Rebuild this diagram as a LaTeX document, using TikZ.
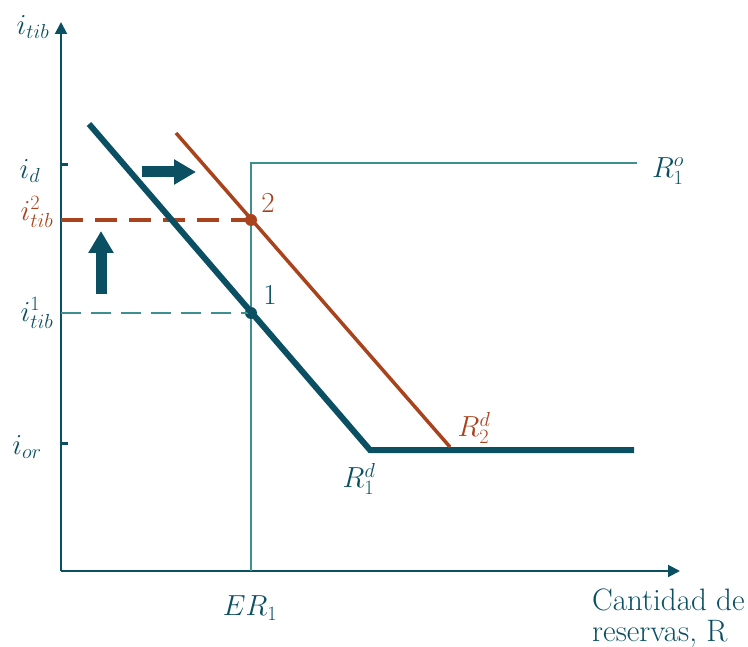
\RequirePackage{fix-cm}
\documentclass[tikz,border=0pt]{standalone}
\usetikzlibrary{arrows.meta}
\definecolor{dteal}{HTML}{0B4F63}
\definecolor{lteal}{HTML}{3E9090}
\definecolor{rust}{HTML}{A8431E}
\begin{document}
\begin{tikzpicture}[x=1pt,y=-1pt,
  lbl/.style={font=\fontsize{29}{31}\selectfont, text=dteal, inner sep=0pt},
  rlbl/.style={lbl, text=rust},
  axis/.style={draw=dteal, line width=2pt, -{Triangle[length=12pt,width=12pt]}},
  tick/.style={draw=dteal, line width=3pt},
  supply/.style={draw=lteal, line width=2pt},
  demand1/.style={draw=dteal, line width=6pt},
  demand2/.style={draw=rust, line width=3.5pt},
  blockarrow/.style={draw=dteal, line width=11pt, -{Triangle[length=22pt,width=24pt]}},
  dot/.style={circle, inner sep=0pt, minimum size=12pt}
]
\useasboundingbox (0,0) rectangle (748,647);

% axes
\coordinate (O) at (61,571);
\coordinate (ytop) at (61,22);
\coordinate (xend) at (680,571);
\draw[axis] (O) -- (ytop);
\draw[axis] (O) -- (xend);

% ticks
\coordinate (tid0) at (61,165); \coordinate (tid1) at (68,165);
\coordinate (tor0) at (61,443); \coordinate (tor1) at (68,443);
\draw[tick] (tid0) -- (tid1);
\draw[tick] (tor0) -- (tor1);

% supply curve R1^o
\coordinate (s0) at (251,571);
\coordinate (s1) at (251,163);
\coordinate (s2) at (637,163);
\draw[supply] (s0) -- (s1) -- (s2);

% points
\node[dot, fill=dteal] (p1) at (251,313) {};
\node[dot, fill=rust] (p2) at (251,220) {};

% dashed lines
\coordinate (d1) at (61,313);
\coordinate (d2) at (61,220);
\draw[draw=lteal, line width=2pt, dash pattern=on 20pt off 10pt] (d1) -- (p1.center);
\draw[draw=rust, line width=4.5pt, dash pattern=on 22pt off 12pt] (d2) -- (p2.center);

% demand curves
\coordinate (a0) at (89,124);
\coordinate (a1) at (370,450);
\coordinate (a2) at (634,450);
\draw[demand1, line join=miter] (a0) -- (a1) -- (a2);
\coordinate (b0) at (176,133);
\coordinate (b1) at (450,447);
\draw[demand2] (b0) -- (b1);

% block arrows
\coordinate (ra0) at (142,172);
\coordinate (ra1) at (196,172);
\draw[blockarrow] (ra0) -- (ra1);
\coordinate (ua0) at (101,294);
\coordinate (ua1) at (101,231);
\draw[blockarrow] (ua0) -- (ua1);

% labels
\node[lbl] (litib) at (33,27) {$i_{tib}$};
\node[lbl] (lid) at (30,171) {$i_d$};
\node[rlbl] (li2) at (37,212) {$i^2_{tib}$};
\node[lbl] (li1) at (37,313) {$i^1_{tib}$};
\node[lbl] (lior) at (27,447) {$i_{or}$};
\node[lbl] (ler) at (250,608) {$ER_1$};
\node[lbl, font=\fontsize{31}{31}\selectfont, align=left, anchor=west] (lx) at (592,618) {Cantidad de\\reservas, R};
\node[lbl] (lro) at (668,171) {$R_1^o$};
\node[rlbl] (lr2) at (474,428) {$R_2^d$};
\node[lbl] (lr1) at (359,479) {$R_1^d$};
\node[rlbl] (l2) at (268,203) {2};
\node[lbl] (l1) at (270,295) {1};
\end{tikzpicture}
\end{document}
